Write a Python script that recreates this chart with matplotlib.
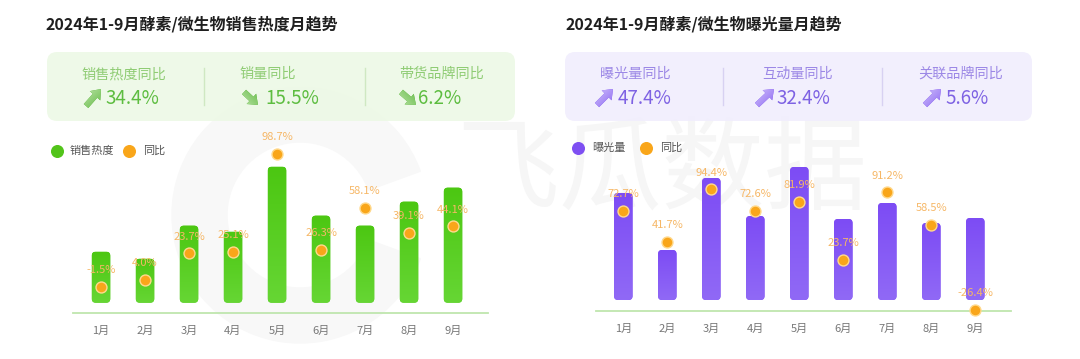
import numpy as np
import matplotlib
matplotlib.use("Agg")
import matplotlib.pyplot as plt
from matplotlib.patches import FancyBboxPatch, FancyArrow, Wedge
from matplotlib.colors import LinearSegmentedColormap

plt.rcParams['font.family'] = ['Noto Sans CJK SC', 'DejaVu Sans']

# ---------------- data ----------------
months = ['1月', '2月', '3月', '4月', '5月', '6月', '7月', '8月', '9月']

sales_heat = [51, 44, 77, 71, 136, 87, 77, 101, 115]          # 销售热度 (relative index)
sales_yoy = [-1.5, 4.0, 23.7, 25.1, 98.7, 26.3, 58.1, 39.1, 44.1]  # 同比 %

exposure = [107, 50, 122, 84, 133, 81, 97, 77, 82]             # 曝光量 (relative index)
exposure_yoy = [72.7, 41.7, 94.4, 72.6, 81.9, 23.7, 91.2, 58.5, -26.4]

left_kpi_labels = ['销售热度同比', '销量同比', '带货品牌同比']
left_kpi_values = ['34.4%', '15.5%', '6.2%']

right_kpi_labels = ['曝光量同比', '互动量同比', '关联品牌同比']
right_kpi_values = ['47.4%', '32.4%', '5.6%']

left_title = '2024年1-9月酵素/微生物销售热度月趋势'
right_title = '2024年1-9月酵素/微生物曝光量月趋势'

W, H = 1080, 359
fig = plt.figure(figsize=(W / 100, H / 100), dpi=100)
fig.patch.set_facecolor('white')

# background axes in pixel coordinates
bg = fig.add_axes([0, 0, 1, 1])
bg.set_xlim(0, W)
bg.set_ylim(H, 0)
bg.axis('off')
bg.set_zorder(0)

# faint watermark
bg.add_patch(Wedge((300, 215), 128, 20, 340, width=55, color='#F8F8F8', zorder=0.5))
bg.text(662, 172, '飞瓜数据', fontsize=74, color='#F6F6F6', ha='center', va='center',
        zorder=0.6)


def grad_fill(ax, patch, x0, x1, y0, y1, c_from, c_to, direction, zorder):
    """gradient image clipped to patch; direction is (dx, dy) in data units"""
    n = 60
    xs = np.linspace(x0, x1, n)
    ys = np.linspace(y0, y1, n)
    X, Y = np.meshgrid(xs, ys)
    Z = (X - x0) * direction[0] + (Y - y0) * direction[1]
    Z = (Z - Z.min()) / (Z.max() - Z.min() + 1e-9)
    cmap = LinearSegmentedColormap.from_list('g', [c_from, c_to])
    im = ax.imshow(Z, extent=(x0, x1, y0, y1), origin='lower', cmap=cmap,
                   aspect='auto', zorder=zorder, interpolation='bilinear')
    im.set_clip_path(patch)
    return im


def arrow(x0, y0, x1, y1, c_light, c_dark):
    a = FancyArrow(x0, y0, x1 - x0, y1 - y0, width=6, head_width=14, head_length=9,
                   length_includes_head=True, color=c_dark, lw=0, zorder=4)
    bg.add_patch(a)
    grad_fill(bg, a, min(x0, x1) - 7, max(x0, x1) + 7, max(y0, y1) + 7, min(y0, y1) - 7,
              c_light, c_dark, (x1 - x0, -(y1 - y0)), 5)
    bg.set_xlim(0, W)
    bg.set_ylim(H, 0)


def kpi_box(x, y, w, h, fill, divider_color, dividers):
    box = FancyBboxPatch((x, y), w, h, boxstyle='round,pad=0,rounding_size=10',
                         fc=fill, ec='none', alpha=0.92, zorder=2)
    bg.add_patch(box)
    for dx in dividers:
        bg.plot([dx, dx], [68, 105], color=divider_color, lw=1, zorder=3)


# titles
bg.text(46, 24, left_title, fontsize=11.5, fontweight='bold', color='#1f1f1f', va='center', ha='left', zorder=6)
bg.text(565, 24, right_title, fontsize=11.5, fontweight='bold', color='#1f1f1f', va='center', ha='left', zorder=6)

# KPI boxes
kpi_box(47, 52, 468, 69, '#EDF9E6', '#CFE8C2', [203.5, 365])
kpi_box(565, 52, 467, 69, '#F1EEFD', '#D8D1F2', [722.5, 881.5])

green_lab, green_val = '#8FCC74', '#5DBD40'
purple_lab, purple_val = '#9C88E6', '#7E62E3'

left_label_x = [124, 268, 442]
left_value_x = [105, 265, 418]
left_arrow = [((86, 106), (101, 89)), ((244, 92), (258, 105)), ((401, 92), (416, 105))]
for lab, val, lx, vx, (p0, p1) in zip(left_kpi_labels, left_kpi_values, left_label_x,
                                      left_value_x, left_arrow):
    bg.text(lx, 74, lab, fontsize=10.2, color=green_lab, ha='center', va='center', zorder=6)
    bg.text(vx, 99, val, fontsize=13.5, color=green_val, ha='left', va='center', zorder=6,
            fontweight='light')
    arrow(p0[0], p0[1], p1[0], p1[1], '#D4F0C4', '#4DAF2C')

right_label_x = [635, 798, 961]
right_value_x = [618, 776, 945]
right_arrow = [((597, 105), (613, 89)), ((757, 105), (774, 89)), ((925, 105), (941, 89))]
for lab, val, lx, vx, (p0, p1) in zip(right_kpi_labels, right_kpi_values, right_label_x,
                                      right_value_x, right_arrow):
    bg.text(lx, 74, lab, fontsize=10.2, color=purple_lab, ha='center', va='center', zorder=6)
    bg.text(vx, 99, val, fontsize=13.5, color=purple_val, ha='left', va='center', zorder=6,
            fontweight='light')
    arrow(p0[0], p0[1], p1[0], p1[1], '#E4DAFD', '#7A4FF0')

orange = '#F9A61A'
orange_edge = '#FFD98C'
label_orange = '#F6B766'

# legends (manual)
bg.scatter([57], [151], s=70, color='#52C41A', zorder=6)
bg.text(70, 151, '销售热度', fontsize=8, color='#555555', va='center', ha='left', zorder=6)
bg.scatter([129], [151], s=70, color=orange, zorder=6)
bg.text(143, 151, '同比', fontsize=8, color='#555555', va='center', ha='left', zorder=6)

bg.scatter([578], [147.5], s=70, color='#7E4FF2', zorder=6)
bg.text(592, 147.5, '曝光量', fontsize=8, color='#555555', va='center', ha='left', zorder=6)
bg.scatter([646], [147.5], s=70, color=orange, zorder=6)
bg.text(660, 147.5, '同比', fontsize=8, color='#555555', va='center', ha='left', zorder=6)


def chart(px_left, px_right, px_top, px_bottom, first_x, gap_px, vals, yoy, yoy_lim,
          c_top, c_bot):
    ax = fig.add_axes([px_left / W, (H - px_bottom) / H, (px_right - px_left) / W,
                       (px_bottom - px_top) / H])
    ax.set_zorder(2)
    ax.patch.set_visible(False)
    x = np.arange(len(vals))
    xl = ((px_left - first_x) / 44.0, (px_right - first_x) / 44.0)
    yl = (-gap_px, (px_bottom - px_top) - gap_px)
    ax.set_xlim(*xl)
    ax.set_ylim(*yl)
    bars = ax.bar(x, vals, width=0.42, color='none', edgecolor='none')
    # rounded gradient bars built from the bar geometry
    px_per_x = (px_right - px_left) / (xl[1] - xl[0])
    px_per_y = (px_bottom - px_top) / (yl[1] - yl[0])
    r_px = 4.0
    for b in bars:
        bx, bw, bh = b.get_x(), b.get_width(), b.get_height()
        p = FancyBboxPatch((bx, 0), bw, bh,
                           boxstyle='round,pad=0,rounding_size=%f' % (r_px / px_per_x),
                           mutation_aspect=px_per_x / px_per_y,
                           fc=c_top, ec='none', zorder=2)
        ax.add_patch(p)
        grad_fill(ax, p, bx, bx + bw, 0, bh, c_bot, c_top, (0, 1), 2.5)
    ax.set_xlim(*xl)
    ax.set_ylim(*yl)
    for s in ['top', 'right', 'left']:
        ax.spines[s].set_visible(False)
    ax.spines['bottom'].set_color('#BFE6AE')
    ax.spines['bottom'].set_linewidth(1.3)
    ax.set_yticks([])
    ax.set_xticks(x)
    ax.set_xticklabels(months, fontsize=8, color='#777777')
    ax.tick_params(axis='x', length=0, pad=9)

    ax2 = ax.twinx()
    ax2.set_zorder(3)
    ax2.patch.set_visible(False)
    ax2.set_ylim(*yoy_lim)
    ax2.axis('off')
    ax2.scatter(x, yoy, s=62, color=orange, edgecolor=orange_edge, linewidth=1.0, zorder=5,
                clip_on=False)
    for xi, v in zip(x, yoy):
        ax2.annotate(f'{v}%', (xi, v), xytext=(0, 12), textcoords='offset points',
                     ha='center', va='center', fontsize=8, color=label_orange, zorder=6,
                     annotation_clip=False)
    return ax, ax2


chart(73.3, 487.7, 140, 313, 101, 10.3, sales_heat, sales_yoy, (-21.0, 108.9),
      '#4CC712', '#66D634')
chart(596, 1011, 140, 311, 623.3, 11, exposure, exposure_yoy, (-27.4, 143.6),
      '#7D4CF4', '#9069F6')

fig.savefig('out.png', dpi=100, facecolor='white')
